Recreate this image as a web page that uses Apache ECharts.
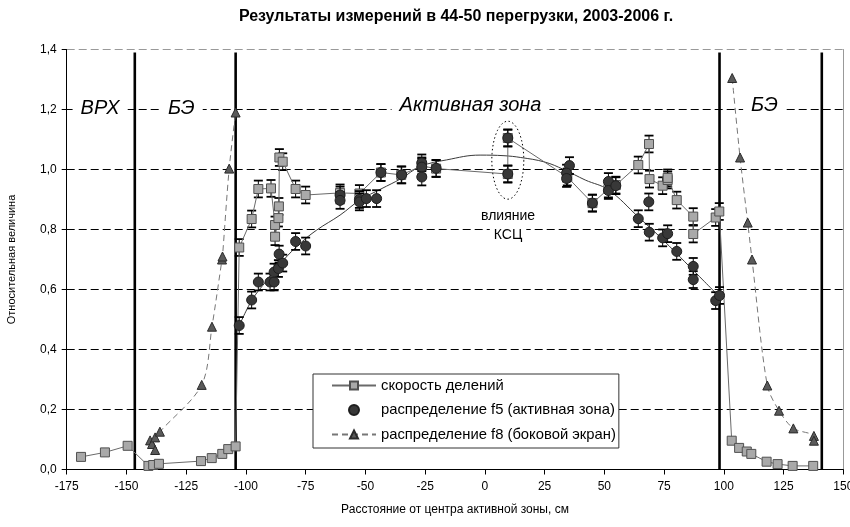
<!DOCTYPE html>
<html>
<head>
<meta charset="utf-8">
<script src="https://cdn.jsdelivr.net/npm/echarts@6/dist/echarts.min.js"></script>
<style>
  html, body { margin: 0; padding: 0; background: #fff; }
  #chart { width: 850px; height: 527px; }
</style>
</head>
<body>
<div id="chart"></div>
<script>
// ---- data ----
const TITLE = 'Результаты измерений в 44-50 перегрузки, 2003-2006 г.';
const X_NAME = 'Расстояние от центра активной зоны, см';
const Y_NAME = 'Относительная величина';

const NAME_RATE = 'скорость делений';
const NAME_F5 = 'распределение f5 (активная зона)';
const NAME_F8 = 'распределение f8 (боковой экран)';

// fission rate (squares)
const RATE_X = [-169, -159, -149.5, -140.8, -138.8, -136.4, -118.8, -114.3, -109.9, -107.4, -104.3,
  -102.8, -97.6, -94.8, -89.5, -87.8, -87.8, -86.4, -86.2, -86.0, -84.6, -79.2, -75.0, -60.6, -52.5,
  -43.5, -35.0, -26.4, -20.4, 9.6, 9.6, 34.5, 45.0, 51.7, 54.8, 64.2, 68.7, 68.9, 74.4, 76.5, 76.5,
  80.3, 87.2, 87.2, 96.6, 98.1, 103.3, 106.4, 109.6, 111.5, 117.9, 122.5, 128.8, 137.4];
const RATE_Y = [0.042, 0.057, 0.079, 0.012, 0.015, 0.019, 0.028, 0.038, 0.052, 0.068, 0.077,
  0.74, 0.835, 0.935, 0.937, 0.815, 0.776, 0.838, 0.877, 1.04, 1.026, 0.935, 0.915, 0.922, 0.92,
  0.99, 0.982, 1.012, 1.003, 0.985, 1.105, 0.975, 0.888, 0.935, 0.948, 1.015, 1.085, 0.968, 0.946, 0.965, 0.972,
  0.898, 0.843, 0.785, 0.84, 0.86, 0.096, 0.072, 0.06, 0.052, 0.026, 0.018, 0.012, 0.012];

// f5 distribution in the core (circles)
const F5_X = [-102.8, -97.6, -94.8, -89.9, -88.2, -88.2, -86.4, -84.6, -86.1, -79.2, -75.0,
  -60.6, -60.6, -52.5, -52.5, -49.6, -45.3, -43.5, -34.8, -26.4, -26.4, -26.4, -20.4, 9.6, 9.6,
  35.4, 34.2, 34.2, 45.0, 51.7, 51.7, 54.8, 64.2, 68.6, 68.8, 74.4, 76.5, 80.3, 87.2, 87.2, 96.6, 98.2];
const F5_Y = [0.48, 0.565, 0.625, 0.625, 0.625, 0.658, 0.67, 0.688, 0.718, 0.76, 0.745,
  0.915, 0.897, 0.9, 0.892, 0.903, 0.903, 0.99, 0.982, 1.022, 1.008, 0.975, 1.004, 1.105, 0.985,
  1.013, 0.988, 0.97, 0.888, 0.96, 0.93, 0.946, 0.836, 0.892, 0.791, 0.772, 0.786, 0.727, 0.677, 0.633, 0.563, 0.58];

// smooth fit through f5
const FIT_X = [-103, -97.6, -91.3, -84.4, -77.4, -70.4, -60.6, -52.3, -43.5, -35, -27, -16, -2, 8, 15, 25, 33, 42, 51.7, 64.2, 73.3, 87.2, 98.4];
const FIT_Y = [0.475, 0.563, 0.63, 0.697, 0.753, 0.798, 0.848, 0.898, 0.935, 0.97, 1.01, 1.032, 1.048, 1.046, 1.04, 1.025, 1.0, 0.965, 0.932, 0.842, 0.775, 0.664, 0.574];

// f8 distribution in the side reflector (triangles), left and right
const F8L_X = [-140.1, -139.3, -138, -138, -136, -118.5, -114.2, -110, -109.8, -107, -104.3];
const F8L_Y = [0.097, 0.085, 0.065, 0.107, 0.126, 0.282, 0.476, 0.70, 0.71, 1.003, 1.19];
const F8R_X = [103.5, 106.8, 110, 111.8, 118.2, 123.1, 129.1, 137.7, 137.7];
const F8R_Y = [1.305, 1.04, 0.823, 0.70, 0.28, 0.196, 0.137, 0.112, 0.096];

const ERR = 0.028;               // half-height of the error bars
const ERR_RANGE = [-104, 100];   // error bars are shown inside the core only

// region boundaries
const BOUNDS_X = [-146.5, -104.3, 98.2, 141];
const BOUND_TOP = 1.39;

// region captions
const REGION_TEXT = ['ВРХ', 'БЭ', 'Активная зона', 'БЭ'];
const REGION_X = [-161, -127, -6, 117];
const REGION_Y = [1.205, 1.205, 1.215, 1.215];

// note under the CPS-affected points
const NOTE_TEXT = ['влияние', 'КСЦ'];
const NOTE_X = [9.7, 9.7];
const NOTE_Y = [0.843, 0.782];
const OVAL_CENTER = [9.6, 1.031];

const X_MIN = -175, X_MAX = 150, X_STEP = 25;
const Y_MIN = 0, Y_MAX = 1.4, Y_STEP = 0.2;

// ---- chart ----
const FONT = '"Liberation Sans", Arial, sans-serif';
const pairs = (xs, ys) => xs.map((x, i) => [x, ys[i]]);
const withErr = (xs, ys) => xs.map((x, i) => [x, ys[i], ERR])
  .filter(p => p[0] > ERR_RANGE[0] && p[0] < ERR_RANGE[1]);

function renderErr(params, api) {
  const x = api.value(0), y = api.value(1), e = api.value(2);
  const t = api.coord([x, y + e]);
  const b = api.coord([x, y - e]);
  const w = 4.5;
  const s = { stroke: '#000', lineWidth: 1 };
  const c = { stroke: '#000', lineWidth: 1.8 };
  return {
    type: 'group',
    children: [
      { type: 'line', shape: { x1: t[0], y1: t[1], x2: b[0], y2: b[1] }, style: s },
      { type: 'line', shape: { x1: t[0] - w, y1: t[1], x2: t[0] + w, y2: t[1] }, style: c },
      { type: 'line', shape: { x1: b[0] - w, y1: b[1], x2: b[0] + w, y2: b[1] }, style: c }
    ]
  };
}

function renderBound(params, api) {
  const x = api.value(0);
  const p0 = api.coord([x, Y_MIN]);
  const p1 = api.coord([x, BOUND_TOP]);
  return {
    type: 'line',
    shape: { x1: p0[0], y1: p0[1], x2: p1[0], y2: p1[1] },
    style: { stroke: '#000', lineWidth: 2.6 }
  };
}

function textRenderer(texts, font, pad) {
  return function (params, api) {
    const p = api.coord([api.value(0), api.value(1)]);
    return {
      type: 'text',
      x: p[0], y: p[1],
      style: {
        text: texts[params.dataIndex],
        font: font,
        fill: '#000',
        align: 'center',
        verticalAlign: 'middle',
        backgroundColor: '#fff',
        padding: pad
      }
    };
  };
}

function renderOval(params, api) {
  const c = api.coord([api.value(0), api.value(1)]);
  const rx = 16, ry = 39, pts = [];
  for (let i = 0; i < 72; i++) {
    const a = i / 72 * Math.PI * 2;
    pts.push([c[0] + rx * Math.cos(a), c[1] + ry * Math.sin(a)]);
  }
  return {
    type: 'polygon',
    shape: { points: pts },
    style: { fill: 'none', stroke: '#000', lineWidth: 1, lineDash: [1.5, 2.5] }
  };
}

const f8Style = {
  type: 'line',
  name: NAME_F8,
  smooth: 0.3,
  symbol: 'triangle',
  symbolSize: 9,
  itemStyle: { color: '#5a5a5a', borderColor: '#2a2a2a', borderWidth: 1 },
  lineStyle: { color: '#777', width: 1, type: [6, 4] },
  z: 4
};

const chart = echarts.init(document.getElementById('chart'), null, { renderer: 'canvas' });
chart.setOption({
  animation: false,
  backgroundColor: '#fff',
  textStyle: { fontFamily: FONT },
  graphic: [{
    type: 'text', x: 456, y: 17,
    style: { text: TITLE, font: 'bold 16px ' + FONT, fill: '#000', align: 'center', verticalAlign: 'middle' }
  }],
  grid: { left: 66.7, right: 6.7, top: 49.5, bottom: 57.5, outerBoundsMode: 'none', containLabel: false },
  legend: {
    data: [NAME_RATE, NAME_F5, NAME_F8],
    orient: 'vertical',
    left: 313, top: 374,
    padding: [4, 3, 6, 18],
    itemWidth: 44, itemHeight: 10, itemGap: 9.5,
    backgroundColor: '#fff',
    borderColor: '#333', borderWidth: 1,
    textStyle: { fontSize: 14.8, color: '#000', fontFamily: FONT }
  },
  xAxis: {
    type: 'value', min: X_MIN, max: X_MAX, interval: X_STEP,
    axisLine: { onZero: false, lineStyle: { color: '#000', width: 1 } },
    axisTick: { show: true, length: 5, lineStyle: { color: '#000' } },
    axisLabel: { color: '#000', fontSize: 12, fontFamily: FONT, margin: 11, hideOverlap: false },
    splitLine: { show: false },
    name: X_NAME, nameLocation: 'middle', nameGap: 34,
    nameTextStyle: { color: '#000', fontSize: 12, fontFamily: FONT }
  },
  yAxis: [{
    type: 'value', min: Y_MIN, max: Y_MAX, interval: Y_STEP,
    axisLine: { show: true, onZero: false, lineStyle: { color: '#000', width: 1 } },
    axisTick: { show: true, length: 5, lineStyle: { color: '#000' } },
    axisLabel: {
      color: '#000', fontSize: 12, fontFamily: FONT, margin: 10,
      formatter: v => v.toFixed(1).replace('.', ',')
    },
    splitLine: {
      show: true,
      lineStyle: { color: ['#000', '#000', '#000', '#000', '#000', '#000', '#000', '#999'], width: 1, type: [8, 4] }
    },
    name: Y_NAME, nameLocation: 'middle', nameGap: 49, nameRotate: 90,
    nameTextStyle: { color: '#000', fontSize: 11, fontFamily: FONT }
  }, {
    type: 'value', min: Y_MIN, max: Y_MAX, interval: Y_STEP, position: 'right',
    axisLine: { show: true, onZero: false, lineStyle: { color: '#999', width: 1 } },
    axisTick: { show: false }, axisLabel: { show: false }, splitLine: { show: false }
  }],
  series: [
    {
      type: 'custom', name: 'bounds', renderItem: renderBound,
      data: BOUNDS_X.map(x => [x, 0]), encode: { x: 0, y: 1 }, z: 2, silent: true
    },
    {
      type: 'line', name: 'fit', data: pairs(FIT_X, FIT_Y), smooth: 0.4,
      showSymbol: false, symbol: 'none',
      lineStyle: { color: '#3a3a3a', width: 1 }, z: 3
    },
    {
      type: 'custom', name: 'rate-err', renderItem: renderErr,
      data: withErr(RATE_X, RATE_Y), encode: { x: 0, y: 1 }, z: 3, silent: true
    },
    {
      type: 'line', name: NAME_RATE, data: pairs(RATE_X, RATE_Y),
      symbol: 'rect', symbolSize: 9,
      itemStyle: { color: '#a9a9a9', borderColor: '#505050', borderWidth: 1 },
      lineStyle: { color: '#6a6a6a', width: 1 }, z: 4
    },
    {
      type: 'custom', name: 'f5-err', renderItem: renderErr,
      data: withErr(F5_X, F5_Y), encode: { x: 0, y: 1 }, z: 5, silent: true
    },
    {
      type: 'scatter', name: NAME_F5, data: pairs(F5_X, F5_Y),
      symbol: 'circle', symbolSize: 10,
      itemStyle: { color: '#383838', borderColor: '#1e1e1e', borderWidth: 1, opacity: 1 }, z: 6
    },
    Object.assign({}, f8Style, { data: pairs(F8L_X, F8L_Y) }),
    Object.assign({}, f8Style, { data: pairs(F8R_X, F8R_Y) }),
    {
      type: 'custom', name: 'regions',
      renderItem: textRenderer(REGION_TEXT, 'italic 20px ' + FONT, [2, 8]),
      data: pairs(REGION_X, REGION_Y), encode: { x: 0, y: 1 }, z: 7, silent: true
    },
    {
      type: 'custom', name: 'note',
      renderItem: textRenderer(NOTE_TEXT, '14px ' + FONT, [1, 4]),
      data: pairs(NOTE_X, NOTE_Y), encode: { x: 0, y: 1 }, z: 7, silent: true
    },
    {
      type: 'custom', name: 'oval', renderItem: renderOval,
      data: [OVAL_CENTER], encode: { x: 0, y: 1 }, z: 7, silent: true
    }
  ]
});
</script>
</body>
</html>
